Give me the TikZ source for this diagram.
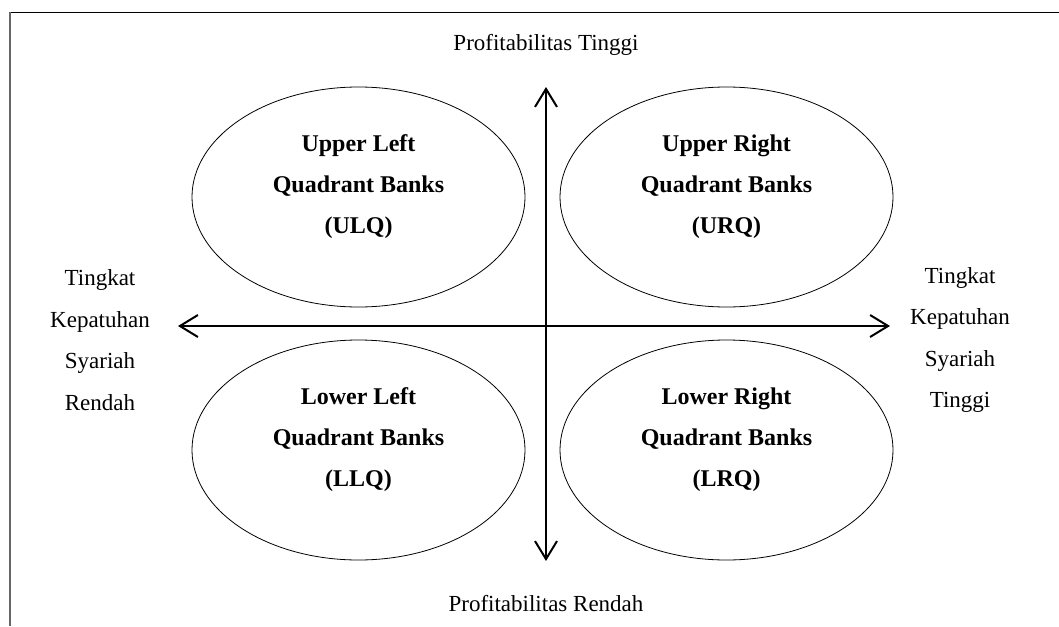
\documentclass[tikz,border=0pt]{standalone}
\usepackage{fontspec}
\setmainfont{Liberation Serif}
\usetikzlibrary{arrows.meta,shapes.geometric}
\tikzset{
  quad/.style={draw=black, line width=0.8pt, ellipse, minimum width=333pt, minimum height=220pt, inner sep=0pt},
  quadtext/.style={align=center, font=\fontsize{24}{41}\selectfont\bfseries, inner sep=0pt},
  axislabel/.style={align=center, font=\fontsize{23}{41.5}\selectfont, inner sep=0pt},
  axis/.style={line width=2pt, {Straight Barb[length=18pt,width=22pt]}-{Straight Barb[length=18pt,width=22pt]}}
}
\begin{document}
\begin{tikzpicture}[x=1pt,y=-1pt]
\useasboundingbox (0,0) rectangle (1059,626);
% frame
\draw[black, line width=1pt] (9.5,12.3) -- (1059,12.3);
\draw[black!60, line width=1.8pt] (10,12.3) -- (10,626);
% ellipses
\node[quad] (ul) at (358.5,197) {};
\node[quad] (ur) at (726.5,197) {};
\node[quad] (ll) at (358.5,450) {};
\node[quad] (lr) at (726.5,450) {};
\node[quadtext] (ult) at ([yshift=10pt]ul.center) {Upper Left\\Quadrant Banks\\(ULQ)};
\node[quadtext] (urt) at ([yshift=10pt]ur.center) {Upper Right\\Quadrant Banks\\(URQ)};
\node[quadtext] (llt) at ([yshift=10pt]ll.center) {Lower Left\\Quadrant Banks\\(LLQ)};
\node[quadtext] (lrt) at ([yshift=10pt]lr.center) {Lower Right\\Quadrant Banks\\(LRQ)};
% axes
\coordinate (top) at (546,87);
\coordinate (bot) at (546,561);
\coordinate (lft) at (178,326);
\coordinate (rgt) at (890,326);
\draw[axis] (bot) -- (top);
\draw[axis] (lft) -- (rgt);
% labels
\node[axislabel] (ptop) at (546,45) {Profitabilitas Tinggi};
\node[axislabel] (pbot) at (546,604) {Profitabilitas Rendah};
\node[axislabel] (kl) at (100,340) {Tingkat\\Kepatuhan\\Syariah\\Rendah};
\node[axislabel] (kr) at (960,340) {Tingkat\\Kepatuhan\\Syariah\\Tinggi};
\end{tikzpicture}
\end{document}
